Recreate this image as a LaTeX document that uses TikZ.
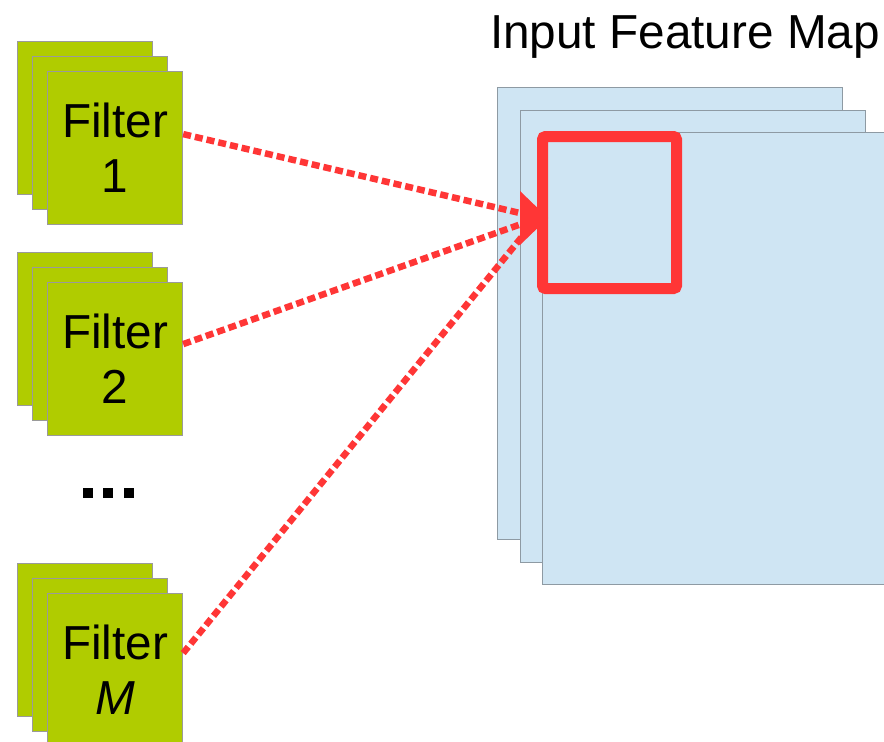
\documentclass[tikz,border=0pt]{standalone}
\usepackage{fontspec}
\setmainfont{Liberation Sans}
\usetikzlibrary{arrows.meta}
\definecolor{filtergreen}{HTML}{B0CC00}
\definecolor{filteredge}{HTML}{9A9A9A}
\definecolor{mapblue}{HTML}{CFE5F3}
\definecolor{mapedge}{HTML}{8E9AA3}
\definecolor{hotred}{HTML}{FF3636}
\begin{document}
\begin{tikzpicture}[x=1pt,y=-1pt,
  filterbox/.style={draw=filteredge, line width=1.2pt, fill=filtergreen,
    minimum width=135pt, minimum height=153pt, inner sep=0pt,
    anchor=north west, align=center, font=\fontsize{47.7}{55}\selectfont},
  mapbox/.style={draw=mapedge, line width=1.2pt, fill=mapblue,
    minimum width=345pt, minimum height=452pt, inner sep=0pt, anchor=north west},
  dotline/.style={hotred, line width=6.5pt, dash pattern=on 8pt off 4pt},
  dotsq/.style={fill=black, minimum size=10pt, inner sep=0pt},
  title/.style={font=\fontsize{47.7}{55}\selectfont, anchor=base, inner sep=0pt},
]
\useasboundingbox (0,0) rectangle (884,742);

% input feature map: three stacked channels
\node[mapbox] (m1) at (497,87) {};
\node[mapbox] (m2) at (520,110) {};
\node[mapbox] (m3) at (542,132) {};
\node[title] (title) at (685,48) {Input Feature Map};

% filter stacks
\node[filterbox] (f1a) at (17,41) {};
\node[filterbox] (f1b) at (32,56) {};
\node[filterbox] (f1) at (47,71) {Filter\\1};

\node[filterbox] (f2a) at (17,252) {};
\node[filterbox] (f2b) at (32,267) {};
\node[filterbox] (f2) at (47,282) {Filter\\2};

\node[filterbox] (fma) at (17,563) {};
\node[filterbox] (fmb) at (32,578) {};
\node[filterbox] (fm) at (47,593) {Filter\\\textit{M}};

% ellipsis between the stacks
\node[dotsq] (d1) at (88,493) {};
\node[dotsq] (d2) at (108,493) {};
\node[dotsq] (d3) at (129,493) {};

% connectors converging on the receptive window
\coordinate (meet) at (524,214);
\coordinate (end2) at (527,222);
\coordinate (endm) at (529,228);
\coordinate (tip) at (548,218);
\draw[dotline] ([yshift=15pt]f2.east) -- (end2);
\draw[dotline] ([yshift=17pt]fm.east) -- (endm);
\draw[dotline] ([yshift=14pt]f1.east) -- (meet);
% shared arrowhead
\fill[hotred] (tip) -- ++(-28,-27) -- ++(0,54) -- cycle;

% receptive window
\draw[hotred, line width=11pt, rounded corners=3pt] (542.5,136.5) rectangle (676.5,288.5);
\end{tikzpicture}
\end{document}
